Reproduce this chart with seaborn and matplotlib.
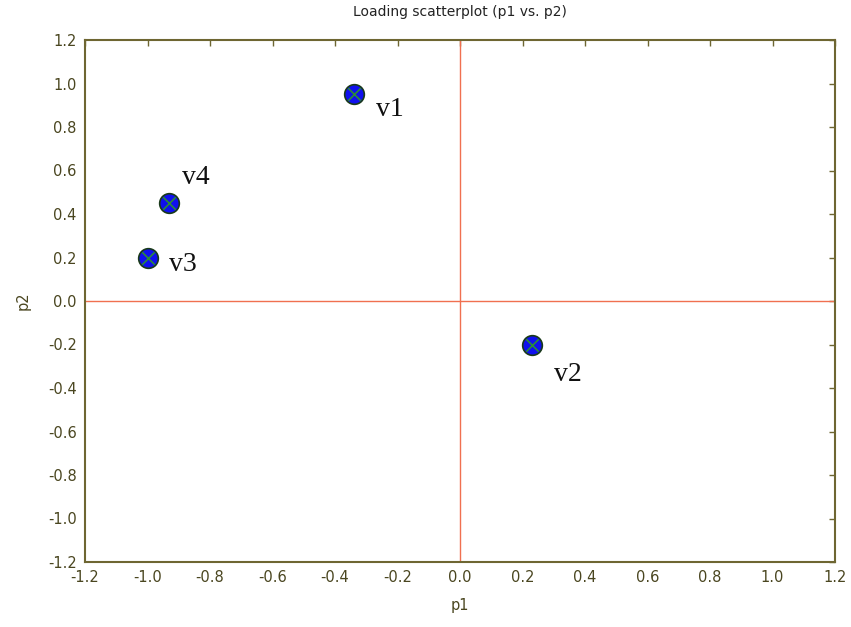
import matplotlib
matplotlib.use("Agg")
import matplotlib.pyplot as plt
import seaborn as sns
import pandas as pd
import numpy as np

names = ["v1", "v2", "v3", "v4"]
p1 = [-0.34, 0.23, -1.00, -0.93]
p2 = [0.95, -0.20, 0.20, 0.45]
label_dx = [0.07, 0.07, 0.07, 0.04]
label_dy = [-0.07, -0.14, -0.03, 0.12]
tick_labels = ["-1.2", "-1.0", "-0.8", "-0.6", "-0.4", "-0.2", "0.0",
               "0.2", "0.4", "0.6", "0.8", "1.0", "1.2"]

sns.set_style("white")
plt.rcParams['font.family'] = ['DejaVu Sans']

df = pd.DataFrame({"p1": p1, "p2": p2, "name": names})
ticks = [float(t) for t in tick_labels]

fig = plt.figure(figsize=(8.51, 6.27), dpi=100)
ax = fig.add_axes([85/851, 1-562/627, 750/851, 522/627])

olive = "#6e6632"
txtc = "#4a4620"

ax.axvline(0, color="#f07050", lw=1, zorder=1)
ax.axhline(0, color="#f07050", lw=1, zorder=1)

sns.scatterplot(data=df, x="p1", y="p2", ax=ax, s=200, color="#1010ee",
                edgecolor="#1a3a1a", linewidth=1.2, zorder=3, legend=False)
sns.scatterplot(data=df, x="p1", y="p2", ax=ax, s=80, marker="x", color="#2a8a3a",
                linewidth=1.2, zorder=4, legend=False)

for n, x, y, dx, dy in zip(names, p1, p2, label_dx, label_dy):
    ax.text(x + dx, y + dy, n, fontsize=20, family="Liberation Serif", color="#111111",
            va="center", ha="left")

ax.set_xlim(-1.2, 1.2)
ax.set_ylim(-1.2, 1.2)
ax.set_xticks(ticks)
ax.set_yticks(ticks)
ax.set_xticklabels(tick_labels)
ax.set_yticklabels(tick_labels)
ax.tick_params(direction="in", length=4, width=1, colors=olive, labelcolor=txtc,
               labelsize=10.5, top=True, right=True, pad=6)
for s in ax.spines.values():
    s.set_color(olive)
    s.set_linewidth(1.5)
    s.set_visible(True)
ax.set_xlabel("p1", fontsize=10.5, color=txtc, labelpad=9)
ax.set_ylabel("p2", fontsize=10.5, color=txtc, labelpad=12)
ax.set_title("Loading scatterplot (p1 vs. p2)", fontsize=10, color="#222222", pad=17)

fig.savefig("out.png", dpi=100)
